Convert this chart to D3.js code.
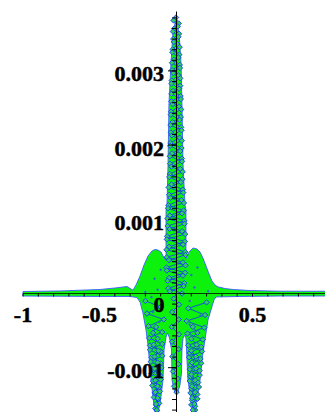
<!DOCTYPE html>
<html>
<head>
<meta charset="utf-8">
<script src="https://cdn.jsdelivr.net/npm/d3@7"></script>
<style>
  html, body { margin: 0; padding: 0; background: #fff; overflow: hidden; }
</style>
</head>
<body>
<div id="chart"></div>
<script>
// y values are in units of 1e-3
const xTicks = [-1, -0.5, 0, 0.5];
const xTickLabels = ['-1', '-0.5', '0', '0.5'];
const yTicks = [-1, 1, 2, 3];
const yTickLabels = ['-0.001', '0.001', '0.002', '0.003'];

// filled region, upper edge left -> right
const upperX = [-1.0, -0.758, -0.497, -0.399, -0.320, -0.294, -0.281, -0.261, -0.235, -0.209, -0.183, -0.157, -0.137, -0.118, -0.098, -0.078, -0.065,
  -0.065, -0.059, -0.052, -0.046, -0.033, -0.020, 0, 0.020, 0.033, 0.039, 0.046, 0.059, 0.065,
  0.065, 0.085, 0.111, 0.137, 0.157, 0.176, 0.196, 0.216, 0.235, 0.255, 0.275, 0.294, 0.320, 0.373, 0.484, 0.680, 1.0];
const upperY = [0.027, 0.034, 0.054, 0.074, 0.094, 0.060, 0.045, 0.115, 0.236, 0.384, 0.505, 0.573, 0.593, 0.586, 0.559, 0.478, 0.45,
  1.125, 1.193, 1.732, 2.560, 3.100, 3.504, 3.706, 3.504, 3.100, 2.560, 1.732, 1.193, 1.125,
  0.47, 0.560, 0.613, 0.600, 0.559, 0.478, 0.370, 0.263, 0.168, 0.115, 0.088, 0.081, 0.067, 0.054, 0.040, 0.031, 0.030];

// filled region, lower edge right -> left
const lowerX = [1.0, 0.680, 0.418, 0.301, 0.261, 0.248, 0.209, 0.176, 0.157, 0.137, 0.111, 0.098, 0.078, 0.069, 0.065, 0.059, 0.046, 0.039, 0.036, 0.026, 0.010, 0.003,
  -0.013, -0.026, -0.029, -0.042, -0.056, -0.065, -0.078, -0.085, -0.105, -0.124, -0.144, -0.163, -0.183, -0.196, -0.216, -0.235, -0.255, -0.301, -0.497, -1.0];
const lowerY = [-0.034, -0.034, -0.040, -0.045, -0.047, -0.088, -0.357, -0.802, -1.166, -1.435, -1.624, -1.435, -1.166, -0.761, -0.600, -0.559, -0.600, -0.761, -1.071, -1.233, -1.341, -1.354,
  -1.300, -1.166, -0.761, -0.600, -0.532, -0.586, -0.761, -1.166, -1.503, -1.624, -1.503, -1.166, -0.694, -0.492, -0.263, -0.115, -0.054, -0.040, -0.040, -0.034];

// sampled points along the central column
const columnA = [[0.000, 3.72], [0.018, 3.64], [-0.012, 3.57], [0.020, 3.50], [-0.018, 3.43], [0.010, 3.36], [-0.022, 3.29], [0.022, 3.22], [-0.015, 3.15],
  [0.025, 3.08], [-0.025, 3.01], [0.015, 2.94], [-0.028, 2.87], [0.028, 2.80], [-0.020, 2.73], [0.030, 2.66], [-0.030, 2.59], [0.020, 2.52],
  [-0.032, 2.45], [0.032, 2.38], [-0.022, 2.31], [0.034, 2.24], [-0.034, 2.17], [0.024, 2.10], [-0.036, 2.03], [0.036, 1.96], [-0.026, 1.89],
  [0.038, 1.82], [-0.038, 1.75], [0.028, 1.68], [-0.040, 1.61], [0.042, 1.54], [-0.030, 1.47], [0.045, 1.40], [-0.045, 1.33], [0.035, 1.26],
  [-0.050, 1.19], [0.050, 1.12], [-0.040, 1.05], [0.055, 0.98], [-0.055, 0.91], [0.040, 0.84], [-0.058, 0.77], [0.058, 0.70], [-0.045, 0.63],
  [0.060, 0.56], [-0.060, 0.49], [0.045, 0.42], [-0.062, 0.35], [0.060, 0.28], [-0.045, 0.21], [0.055, 0.14], [-0.050, 0.07], [0.040, 0.00]];
const columnB = [[-0.016, 3.68], [0.012, 3.60], [-0.020, 3.53], [0.016, 3.46], [-0.014, 3.39], [0.024, 3.32], [-0.024, 3.25], [0.016, 3.18], [-0.026, 3.11],
  [0.026, 3.04], [-0.018, 2.97], [0.028, 2.90], [-0.030, 2.83], [0.020, 2.76], [-0.030, 2.69], [0.032, 2.62], [-0.022, 2.55], [0.034, 2.48],
  [-0.034, 2.41], [0.024, 2.34], [-0.036, 2.27], [0.036, 2.20], [-0.026, 2.13], [0.038, 2.06], [-0.038, 1.99], [0.028, 1.92], [-0.040, 1.85],
  [0.040, 1.78], [-0.030, 1.71], [0.044, 1.64], [-0.044, 1.57], [0.032, 1.50], [-0.048, 1.43], [0.048, 1.36], [-0.036, 1.29], [0.052, 1.22],
  [-0.052, 1.15], [0.040, 1.08], [-0.056, 1.01], [0.056, 0.94], [-0.042, 0.87], [0.060, 0.80], [-0.060, 0.73], [0.046, 0.66], [-0.062, 0.59],
  [0.062, 0.52], [-0.046, 0.45], [0.062, 0.38], [-0.060, 0.31], [0.045, 0.24], [-0.055, 0.17], [0.050, 0.10], [-0.040, 0.03]];
const centerSpike = [[-0.015, -0.07], [0.020, -0.15], [-0.025, -0.25], [0.018, -0.35], [-0.028, -0.45], [0.020, -0.55], [-0.026, -0.65],
  [0.018, -0.75], [-0.024, -0.85], [0.015, -0.95], [-0.020, -1.05], [0.012, -1.15], [-0.012, -1.25], [0.004, -1.33]];
const leftSpikeA = [[-0.20, -0.10], [-0.10, -0.18], [-0.19, -0.27], [-0.08, -0.35], [-0.18, -0.44], [-0.09, -0.52], [-0.175, -0.60], [-0.09, -0.68],
  [-0.17, -0.76], [-0.09, -0.84], [-0.165, -0.92], [-0.095, -1.00], [-0.16, -1.08], [-0.10, -1.16], [-0.155, -1.24], [-0.105, -1.32],
  [-0.145, -1.40], [-0.11, -1.48], [-0.135, -1.55], [-0.12, -1.62]];
const leftSpikeB = [[-0.17, -0.70], [-0.10, -0.78], [-0.16, -0.86], [-0.10, -0.94], [-0.155, -1.02], [-0.105, -1.10], [-0.15, -1.18],
  [-0.11, -1.26], [-0.14, -1.34], [-0.115, -1.42], [-0.13, -1.50], [-0.125, -1.58]];
const leftSpikeC = [[-0.13, -0.45], [-0.15, -0.53], [-0.12, -0.61], [-0.145, -0.69], [-0.115, -0.77], [-0.14, -0.85], [-0.12, -0.93],
  [-0.14, -1.01], [-0.115, -1.09], [-0.135, -1.17], [-0.12, -1.25], [-0.135, -1.33], [-0.12, -1.41], [-0.13, -1.49], [-0.125, -1.57]];
const rightSpikeA = [[0.20, -0.12], [0.08, -0.20], [0.19, -0.29], [0.07, -0.37], [0.185, -0.46], [0.075, -0.54], [0.175, -0.62], [0.08, -0.70],
  [0.17, -0.78], [0.085, -0.86], [0.165, -0.94], [0.09, -1.02], [0.155, -1.10], [0.09, -1.18], [0.15, -1.26], [0.095, -1.34],
  [0.14, -1.42], [0.10, -1.50], [0.125, -1.57], [0.11, -1.64]];
const rightSpikeB = [[0.165, -0.72], [0.09, -0.80], [0.16, -0.88], [0.095, -0.96], [0.155, -1.04], [0.095, -1.12], [0.145, -1.20],
  [0.10, -1.28], [0.14, -1.36], [0.105, -1.44], [0.125, -1.52], [0.115, -1.60]];
const rightSpikeC = [[0.11, -0.45], [0.14, -0.53], [0.10, -0.61], [0.135, -0.69], [0.10, -0.77], [0.13, -0.85], [0.105, -0.93],
  [0.13, -1.01], [0.10, -1.09], [0.125, -1.17], [0.105, -1.25], [0.125, -1.33], [0.105, -1.41], [0.12, -1.49], [0.11, -1.57]];
const specks = [[-0.14, 0.20], [-0.12, 0.05], [-0.10, 0.32], [-0.16, -0.05], [0.10, 0.25], [0.12, 0.08], [0.14, 0.35], [0.09, -0.10],
  [-0.20, 0.02], [0.21, 0.03], [-0.15, -0.25], [0.16, -0.30], [-0.11, -0.38], [0.09, -0.42]];

const width = 325;
const height = 412;

const x = d3.scaleLinear().domain([-1, 1]).range([23, 329]);
const y = d3.scaleLinear().domain([0, 1]).range([293.5, 219.3]);

const svg = d3.select('#chart')
  .append('svg')
  .attr('width', width)
  .attr('height', height)
  .attr('font-family', '"Liberation Serif", "Times New Roman", serif')
  .attr('font-weight', 'bold');

// filled region
const outline = upperX.map((v, i) => [v, upperY[i]])
  .concat(lowerX.map((v, i) => [v, lowerY[i]]));

svg.append('path')
  .datum(outline)
  .attr('fill', '#0cf20c')
  .attr('stroke', '#3a5cff')
  .attr('stroke-width', 0.9)
  .attr('stroke-linejoin', 'round')
  .attr('d', d3.line().x(d => x(d[0])).y(d => y(d[1])).curve(d3.curveLinearClosed));

// point strands
const strands = [columnA, columnB, centerSpike, leftSpikeA, leftSpikeB, leftSpikeC, rightSpikeA, rightSpikeB, rightSpikeC];
const line = d3.line().x(d => x(d[0])).y(d => y(d[1]));
const diamond = 'M0,-2.7L2.7,0L0,2.7L-2.7,0Z';

svg.append('g')
  .selectAll('path')
  .data(strands)
  .join('path')
  .attr('fill', 'none')
  .attr('stroke', '#1030ff')
  .attr('stroke-width', 0.8)
  .attr('d', line);

svg.append('g')
  .selectAll('path')
  .data(strands.flat())
  .join('path')
  .attr('transform', d => `translate(${x(d[0])},${y(d[1])})`)
  .attr('d', diamond)
  .attr('fill', '#2fcf5a')
  .attr('stroke', '#1a3cff')
  .attr('stroke-width', 0.9);

svg.append('g')
  .selectAll('path')
  .data(specks)
  .join('path')
  .attr('transform', d => `translate(${x(d[0])},${y(d[1])})`)
  .attr('d', 'M0,-1.5L1.5,0L0,1.5L-1.5,0Z')
  .attr('fill', '#2a6ad0')
  .attr('stroke', 'none');

// axes
const axes = svg.append('g').attr('stroke', '#000').attr('stroke-width', 1);
axes.append('line')
  .attr('x1', x(-1)).attr('x2', width)
  .attr('y1', y(0)).attr('y2', y(0))
  .attr('stroke-opacity', 0.75);
axes.append('line')
  .attr('x1', x(0) + 0.5).attr('x2', x(0) + 0.5)
  .attr('y1', y(3.8)).attr('y2', height);

axes.selectAll('.xt')
  .data(d3.range(-10, 11).map(k => k / 10))
  .join('line')
  .attr('class', 'xt')
  .attr('x1', d => x(d)).attr('x2', d => x(d))
  .attr('y1', y(0)).attr('y2', y(0) + 3);

axes.selectAll('.yt')
  .data(d3.range(-11, 27).map(k => k / 7))
  .join('line')
  .attr('class', 'yt')
  .attr('x1', x(0) - 4).attr('x2', x(0))
  .attr('y1', d => y(d)).attr('y2', d => y(d));

axes.selectAll('.ym')
  .data(yTicks)
  .join('line')
  .attr('class', 'ym')
  .attr('x1', x(0) - 8).attr('x2', x(0))
  .attr('y1', d => y(d)).attr('y2', d => y(d));

// tick labels
svg.append('g')
  .attr('font-size', 22)
  .attr('text-anchor', 'end')
  .attr('stroke', '#000')
  .attr('stroke-width', 0.5)
  .selectAll('text')
  .data(yTicks)
  .join('text')
  .attr('x', 164)
  .attr('y', d => y(d) + 10.5)
  .text((d, i) => yTickLabels[i]);

svg.append('g')
  .attr('font-size', 22)
  .attr('text-anchor', 'middle')
  .attr('stroke', '#000')
  .attr('stroke-width', 0.5)
  .selectAll('text')
  .data(xTicks)
  .join('text')
  .attr('x', d => d === 0 ? x(d) - 17 : x(d))
  .attr('y', d => d === 0 ? y(0) + 18.5 : y(0) + 28.5)
  .text((d, i) => xTickLabels[i]);
</script>
</body>
</html>
